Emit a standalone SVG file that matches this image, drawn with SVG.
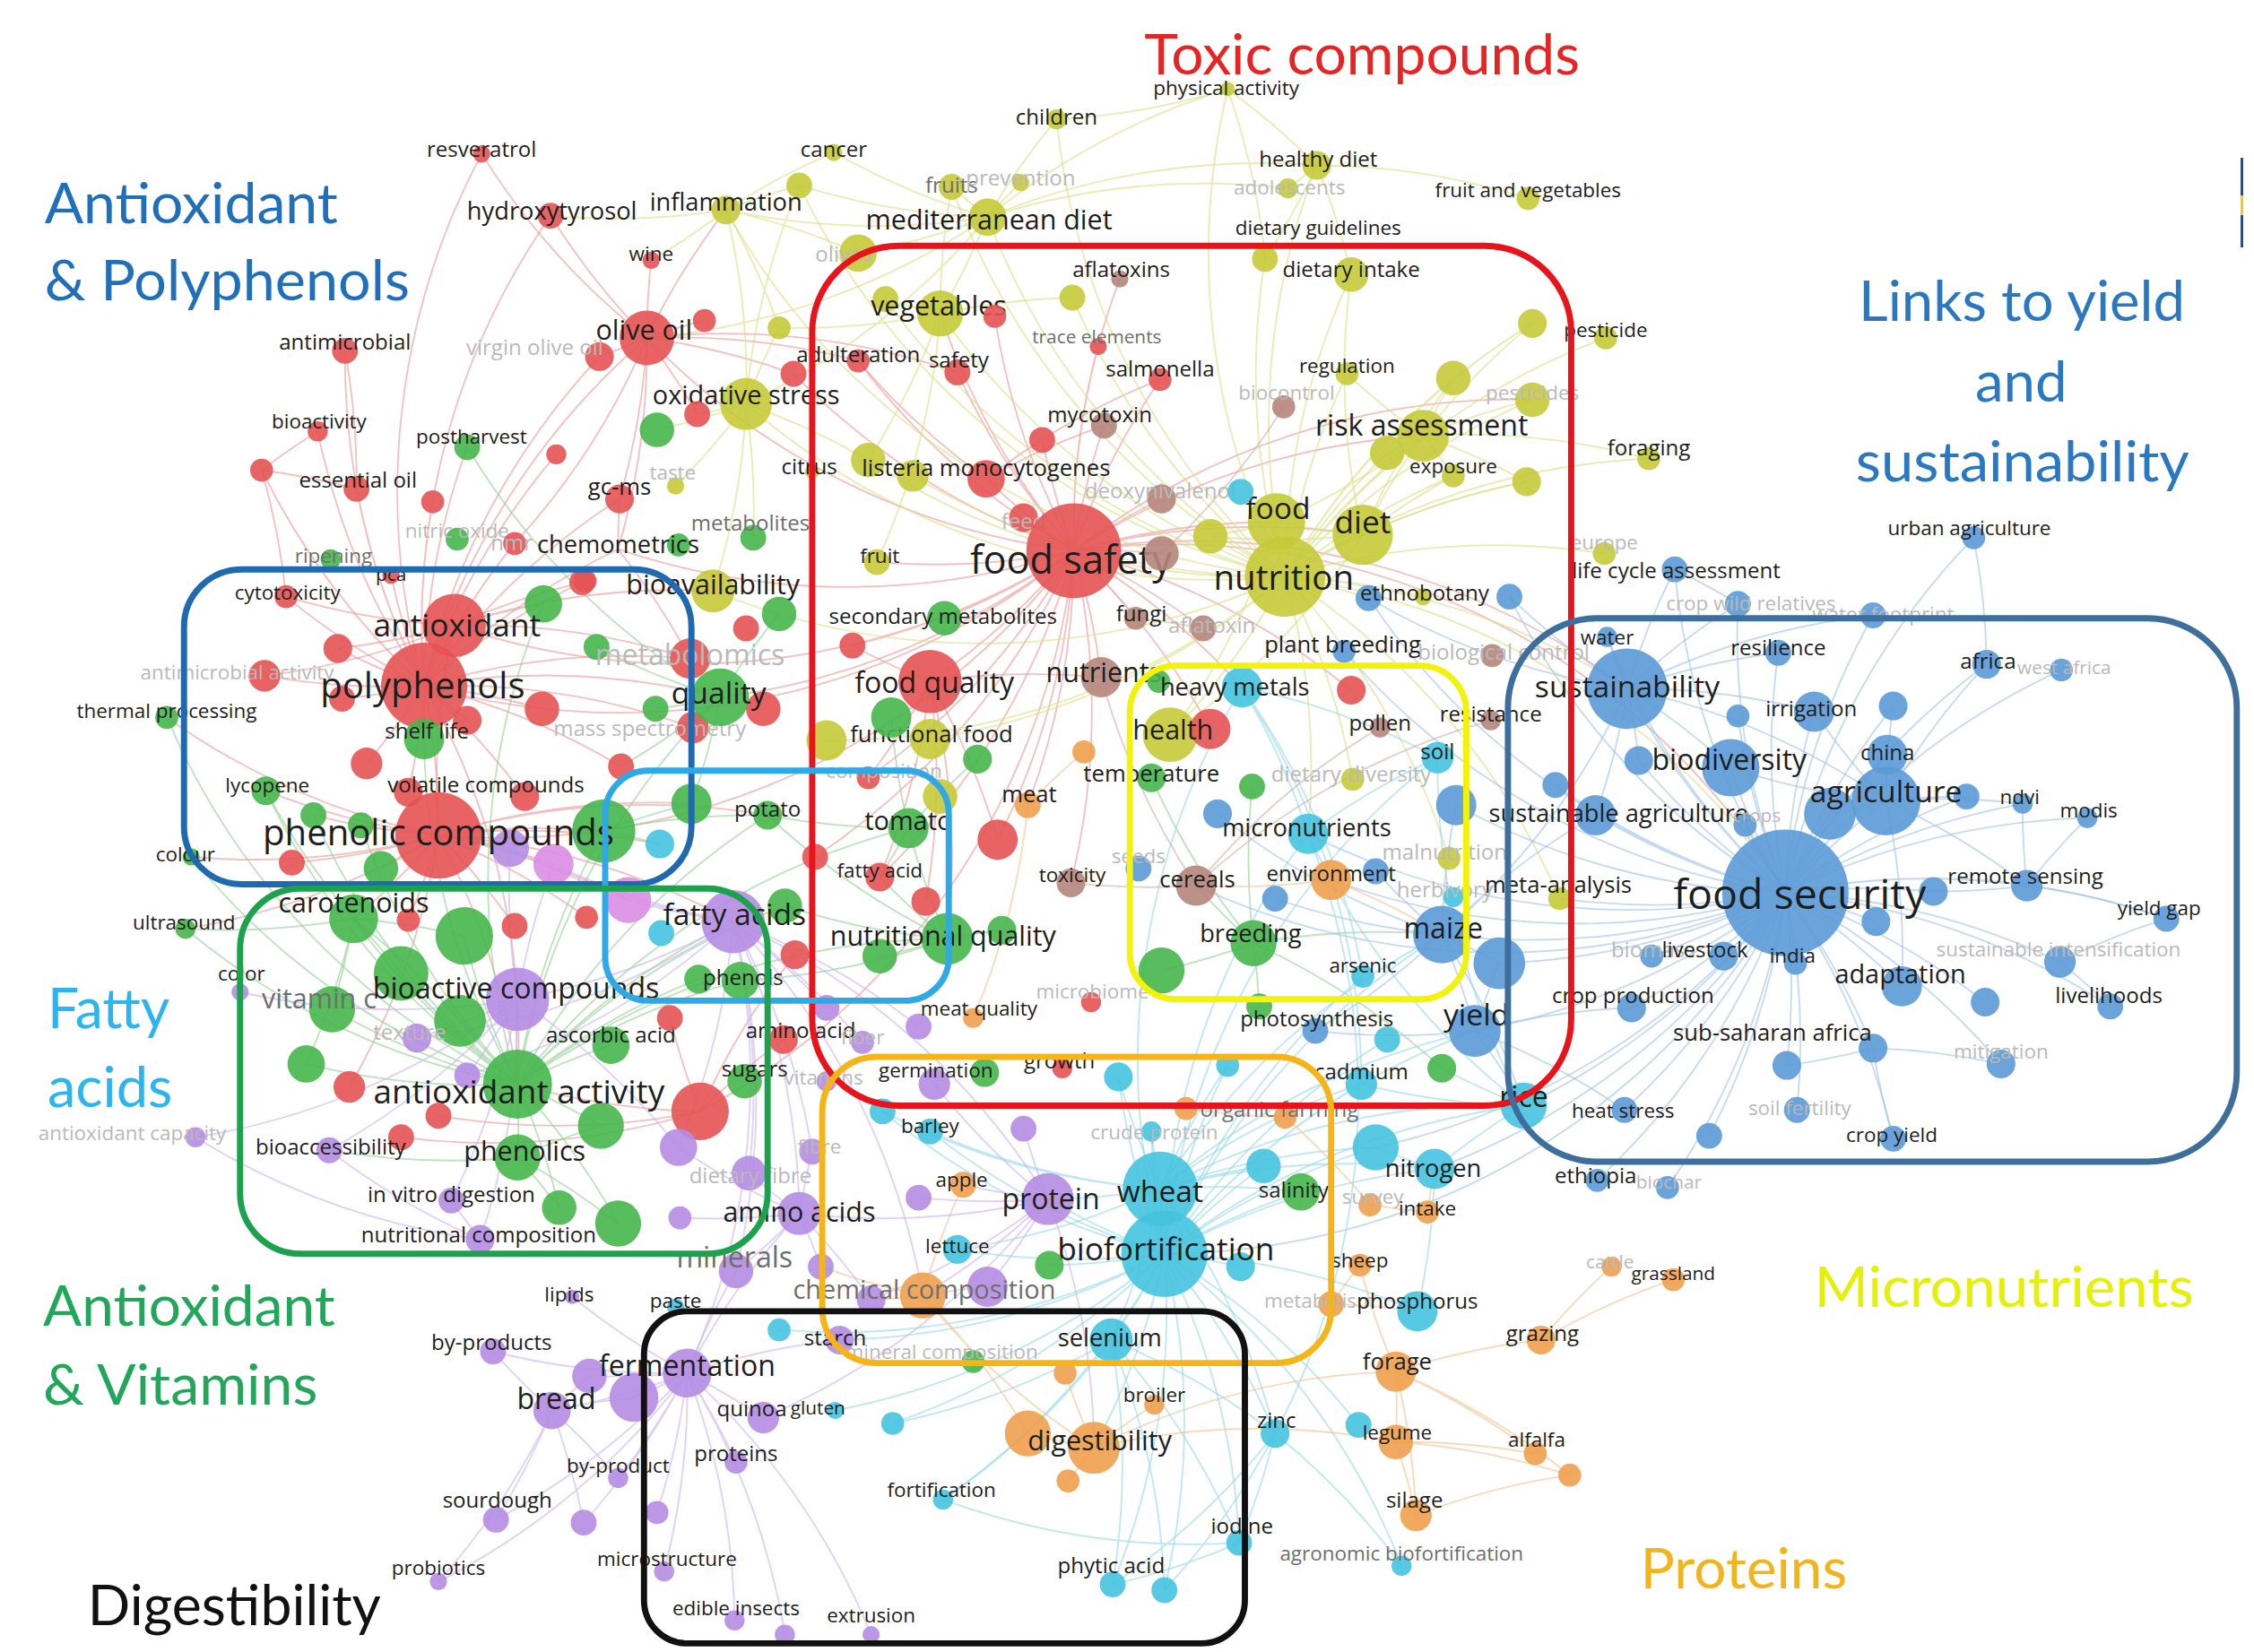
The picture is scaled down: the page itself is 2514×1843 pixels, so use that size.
<svg xmlns="http://www.w3.org/2000/svg" width="2514" height="1843" viewBox="0 0 2514 1843">
<style>
text{font-family:"Open Sans","Noto Sans","Liberation Sans",sans-serif;text-anchor:middle;dominant-baseline:central;fill:#1e1e1e}
.f{fill:#b9b9b9}.gr{fill:#6e6e6e}
.z13{font-size:13px}.z14{font-size:14px}.z15{font-size:15px}.z16{font-size:16px}.z17{font-size:17px}.z18{font-size:18px}.z19{font-size:19px}.z20{font-size:20px}.z21{font-size:21px}.z22{font-size:22px}.z23{font-size:23px}.z24{font-size:24px}.z25{font-size:25px}.z27{font-size:27px}.z29{font-size:29px}
circle{fill-opacity:.9}
.r{fill:#e65353}.g{fill:#46b64b}.y{fill:#c5ca38}.b{fill:#5b9ad6}.p{fill:#b58ce3}.c{fill:#45c3df}.o{fill:#eea04c}.n{fill:#b5857a}.k{fill:#dc8ce6}
#edges path{fill:none;stroke-width:1.15;stroke-opacity:.62}
.er{stroke:#ea9a9a}.eg{stroke:#94d096}.ey{stroke:#dadf86}.eb{stroke:#a2c3e6}.ec{stroke:#96d8e8}.eo{stroke:#f0c48e}.ep{stroke:#ccb5ef}.en{stroke:#d3b0a8}
.box{fill:none;stroke-width:4.3}
.ttl{font-family:Lato,"Open Sans",sans-serif;text-anchor:start;dominant-baseline:alphabetic;font-size:39px}
.t-red{fill:#e52424}.t-blue{fill:#1f6fba}.t-links{fill:#2a78c2}.t-fatty{fill:#2cb4ef}.t-green{fill:#21a65a}.t-black{fill:#111111}.t-yellow{fill:#e4f00a}.t-orange{fill:#f2b41c}
</style>
<rect width="2514" height="1843" fill="#ffffff"/>
<g transform="scale(1.60332 1.604)">
<g id="edges">
<path class="er" d="M747 383A500 500 0 0 1 686 333M747 383A500 500 0 0 1 768 296M747 383A500 500 0 0 1 807 264M747 383A500 500 0 0 1 666 259M747 383A500 500 0 0 1 647 474M747 383A500 500 0 0 1 657 430M747 383A500 500 0 0 1 766 471M747 383A500 500 0 0 1 779 194M747 383A500 500 0 0 1 764 241M747 383A500 500 0 0 1 597 251M747 383A500 500 0 0 1 712 360M747 383A500 500 0 0 1 745 614M747 383A500 500 0 0 1 715 560M747 383A500 500 0 0 1 694 584M747 383A500 500 0 0 1 610 391M747 383A500 500 0 0 1 888 363M747 383A500 500 0 0 1 948 372M747 383A500 500 0 0 1 842 507M747 383A500 500 0 0 1 990 303M747 383A500 500 0 0 1 654 218M747 383A500 500 0 0 1 450 235M747 383A500 500 0 0 1 1066 278M747 383A500 500 0 0 1 864 478M747 383A500 500 0 0 1 295 477M747 383A500 500 0 0 1 305 581M747 383A500 500 0 0 1 316 435M747 383A500 500 0 0 1 612 610M747 383A500 500 0 0 1 1242 621M747 383A500 500 0 0 1 430 382M747 383A500 500 0 0 1 725 306M747 383A500 500 0 0 1 593 449M747 383A500 500 0 0 1 692 220M747 383A500 500 0 0 1 552 260M747 383A500 500 0 0 1 1132 479M747 383A500 500 0 0 1 604 541M747 383A500 500 0 0 1 567 596M747 383A500 500 0 0 1 940 480M747 383A500 500 0 0 1 501 485M747 383A500 500 0 0 1 487 773"/>
<path class="er" d="M295 477A500 500 0 0 1 316 435M295 477A500 500 0 0 1 305 581M295 477A500 500 0 0 1 199 415M295 477A500 500 0 0 1 240 244M295 477A500 500 0 0 1 221 300M295 477A500 500 0 0 1 248 340M295 477A500 500 0 0 1 182 327M295 477A500 500 0 0 1 325 311M295 477A500 500 0 0 1 284 551M295 477A500 500 0 0 1 272 400M295 477A500 500 0 0 1 235 451M295 477A500 500 0 0 1 184 470M295 477A500 500 0 0 1 238 486M295 477A500 500 0 0 1 255 531M295 477A500 500 0 0 1 377 493M295 477A500 500 0 0 1 325 501M295 477A500 500 0 0 1 335 107M295 477A500 500 0 0 1 383 150M295 477A500 500 0 0 1 295 514M295 477A500 500 0 0 1 430 382M295 477A500 500 0 0 1 358 378M295 477A500 500 0 0 1 407 404M295 477A500 500 0 0 1 431 347M295 477A500 500 0 0 1 480 458M295 477A500 500 0 0 1 501 485M295 477A500 500 0 0 1 450 235M295 477A500 500 0 0 1 417 248M295 477A500 500 0 0 1 365 554M295 477A500 500 0 0 1 482 506M295 477A500 500 0 0 1 360 754M295 477A500 500 0 0 1 432 533M295 477A500 500 0 0 1 387 316M295 477A500 500 0 0 1 301 349"/>
<path class="er" d="M305 581A500 500 0 0 1 360 754M305 581A500 500 0 0 1 246 639M305 581A500 500 0 0 1 185 550M305 581A500 500 0 0 1 218 567M305 581A500 500 0 0 1 251 574M305 581A500 500 0 0 1 203 600M305 581A500 500 0 0 1 133 596M305 581A500 500 0 0 1 116 499M305 581A500 500 0 0 1 355 590M305 581A500 500 0 0 1 385 601M305 581A500 500 0 0 1 420 578M305 581A500 500 0 0 1 534 567M305 581A500 500 0 0 1 129 646M305 581A500 500 0 0 1 510 641M305 581A500 500 0 0 1 284 640M305 581A500 500 0 0 1 358 644M305 581A500 500 0 0 1 265 604M305 581A500 500 0 0 1 316 435M305 581A500 500 0 0 1 481 559M305 581A500 500 0 0 1 459 587M305 581A500 500 0 0 1 437 626M305 581A500 500 0 0 1 408 638M305 581A500 500 0 0 1 243 756"/>
<path class="er" d="M450 235A500 500 0 0 1 417 248M450 235A500 500 0 0 1 383 150M450 235A500 500 0 0 1 453 181M450 235A500 500 0 0 1 335 107M450 235A500 500 0 0 1 431 347M450 235A500 500 0 0 1 430 382M450 235A500 500 0 0 1 597 251M450 235A500 500 0 0 1 490 223M450 235A500 500 0 0 1 485 288M450 235A500 500 0 0 1 552 260M450 235A500 500 0 0 1 358 378M450 235A500 500 0 0 1 666 259M450 235A500 500 0 0 1 505 146M316 435A500 500 0 0 1 199 415M316 435A500 500 0 0 1 378 420M316 435A500 500 0 0 1 235 451M316 435A500 500 0 0 1 184 470M316 435A500 500 0 0 1 405 405M316 435A500 500 0 0 1 496 411M316 435A500 500 0 0 1 480 458M487 773A500 500 0 0 1 360 754M487 773A500 500 0 0 1 305 776M487 773A500 500 0 0 1 279 791M487 773A500 500 0 0 1 466 708M487 773A500 500 0 0 1 545 723M487 773A500 500 0 0 1 553 664M647 474A500 500 0 0 1 593 449M647 474A500 500 0 0 1 612 610M647 474A500 500 0 0 1 694 584M647 474A500 500 0 0 1 644 627M647 474A500 500 0 0 1 604 541M647 474A500 500 0 0 1 659 653M647 474A500 500 0 0 1 766 471M182 327A500 500 0 0 1 248 340M182 327A500 500 0 0 1 199 415M182 327A500 500 0 0 1 221 300M240 244A500 500 0 0 1 248 340M430 382A500 500 0 0 1 431 347M430 382A500 500 0 0 1 480 458M686 333A500 500 0 0 1 725 306M686 333A500 500 0 0 1 768 296M686 333A500 500 0 0 1 807 264M686 333A500 500 0 0 1 597 251"/>
<path class="eg" d="M360 754A500 500 0 0 1 360 805M360 754A500 500 0 0 1 246 639M360 754A500 500 0 0 1 231 702M360 754A500 500 0 0 1 360 695M360 754A500 500 0 0 1 279 677M360 754A500 500 0 0 1 320 710M360 754A500 500 0 0 1 213 740M360 754A500 500 0 0 1 323 651M360 754A500 500 0 0 1 425 727M360 754A500 500 0 0 1 418 783M360 754A500 500 0 0 1 430 851M360 754A500 500 0 0 1 185 550M360 754A500 500 0 0 1 510 641M360 754A500 500 0 0 1 659 653M360 754A500 500 0 0 1 632 576M360 754A500 500 0 0 1 534 567M360 754A500 500 0 0 1 295 514M360 754A500 500 0 0 1 501 485M360 754A500 500 0 0 1 389 840M360 754A500 500 0 0 1 515 682M360 754A500 500 0 0 1 486 681M360 754A500 500 0 0 1 546 630M360 754A500 500 0 0 1 378 420M360 754A500 500 0 0 1 420 578M360 754A500 500 0 0 1 129 646M360 754A500 500 0 0 1 133 596M360 754A500 500 0 0 1 116 499M360 754A500 500 0 0 1 251 574M360 754A500 500 0 0 1 218 567"/>
<path class="eg" d="M246 639A500 500 0 0 1 279 677M246 639A500 500 0 0 1 323 651M246 639A500 500 0 0 1 231 702M246 639A500 500 0 0 1 185 550M246 639A500 500 0 0 1 320 710M246 639A500 500 0 0 1 213 740M246 639A500 500 0 0 1 129 646M360 805A500 500 0 0 1 418 783M360 805A500 500 0 0 1 430 851M360 805A500 500 0 0 1 389 840M360 805A500 500 0 0 1 229 800M659 653A500 500 0 0 1 612 665M659 653A500 500 0 0 1 697 647M659 653A500 500 0 0 1 632 576M659 653A500 500 0 0 1 534 567M659 653A500 500 0 0 1 612 610M659 653A500 500 0 0 1 546 630M659 653A500 500 0 0 1 515 682M501 485A500 500 0 0 1 456 493M501 485A500 500 0 0 1 415 450M501 485A500 500 0 0 1 542 427M501 485A500 500 0 0 1 531 493M501 485A500 500 0 0 1 481 559M501 485A500 500 0 0 1 432 533M501 485A500 500 0 0 1 325 311M420 578A500 500 0 0 1 481 559M420 578A500 500 0 0 1 459 587M420 578A500 500 0 0 1 534 567M632 576A500 500 0 0 1 534 567M632 576A500 500 0 0 1 680 528M632 576A500 500 0 0 1 620 499M632 576A500 500 0 0 1 612 610M872 656A500 500 0 0 1 808 675M872 656A500 500 0 0 1 801 541M872 656A500 500 0 0 1 871 547M872 656A500 500 0 0 1 1003 650M872 656A500 500 0 0 1 832 616M872 656A500 500 0 0 1 876 700M872 656A500 500 0 0 1 1003 743"/>
<path class="ey" d="M894 401A500 500 0 0 1 888 363M894 401A500 500 0 0 1 948 372M894 401A500 500 0 0 1 814 511M894 401A500 500 0 0 1 990 303M894 401A500 500 0 0 1 687 151M894 401A500 500 0 0 1 654 218M894 401A500 500 0 0 1 940 191M894 401A500 500 0 0 1 880 180M894 401A500 500 0 0 1 916 115M894 401A500 500 0 0 1 735 83M894 401A500 500 0 0 1 854 62M894 401A500 500 0 0 1 662 130M894 401A500 500 0 0 1 1011 331M894 401A500 500 0 0 1 1117 235M894 401A500 500 0 0 1 1147 319M894 401A500 500 0 0 1 1116 385M894 401A500 500 0 0 1 952 416M894 401A500 500 0 0 1 1008 597M894 401A500 500 0 0 1 941 542M894 401A500 500 0 0 1 647 514M894 401A500 500 0 0 1 496 411M894 401A500 500 0 0 1 519 281M894 401A500 500 0 0 1 505 146M894 401A500 500 0 0 1 556 129M894 401A500 500 0 0 1 604 320M894 401A500 500 0 0 1 635 331M894 401A500 500 0 0 1 616 208M894 401A500 500 0 0 1 746 207M894 401A500 500 0 0 1 937 260M894 401A500 500 0 0 1 1011 263M894 401A500 500 0 0 1 965 315M894 401A500 500 0 0 1 1062 335M894 401A500 500 0 0 1 1066 278M894 401A500 500 0 0 1 1066 225M894 401A500 500 0 0 1 842 373M894 401A500 500 0 0 1 910 580M894 401A500 500 0 0 1 1242 621M894 401A500 500 0 0 1 1132 479M894 401A500 500 0 0 1 575 515M894 401A500 500 0 0 1 1085 625M894 401A500 500 0 0 1 990 415"/>
<path class="ey" d="M687 151A500 500 0 0 1 450 235M687 151A500 500 0 0 1 597 176M687 151A500 500 0 0 1 505 146M687 151A500 500 0 0 1 580 106M687 151A500 500 0 0 1 662 130M687 151A500 500 0 0 1 710 127M687 151A500 500 0 0 1 654 218M687 151A500 500 0 0 1 519 281M687 151A500 500 0 0 1 916 115M687 151A500 500 0 0 1 735 83M687 151A500 500 0 0 1 556 129M687 151A500 500 0 0 1 854 62M687 151A500 500 0 0 1 896 131M505 146A500 500 0 0 1 519 281M505 146A500 500 0 0 1 580 106M505 146A500 500 0 0 1 556 129M505 146A500 500 0 0 1 383 150M505 146A500 500 0 0 1 542 228M505 146A500 500 0 0 1 597 176M505 146A500 500 0 0 1 453 181M519 281A500 500 0 0 1 485 288M519 281A500 500 0 0 1 457 299M519 281A500 500 0 0 1 542 228M519 281A500 500 0 0 1 556 129M519 281A500 500 0 0 1 496 411M519 281A500 500 0 0 1 604 320M519 281A500 500 0 0 1 524 374M519 281A500 500 0 0 1 470 338M948 372A500 500 0 0 1 888 363M948 372A500 500 0 0 1 990 303M948 372A500 500 0 0 1 1011 331M948 372A500 500 0 0 1 1062 335M948 372A500 500 0 0 1 814 511M948 372A500 500 0 0 1 842 373M948 372A500 500 0 0 1 940 191M948 372A500 500 0 0 1 1011 263M990 303A500 500 0 0 1 965 315M990 303A500 500 0 0 1 1011 263M990 303A500 500 0 0 1 1066 278M990 303A500 500 0 0 1 1066 225M990 303A500 500 0 0 1 1011 331M990 303A500 500 0 0 1 937 260M990 303A500 500 0 0 1 888 363M990 303A500 500 0 0 1 1147 319M990 303A500 500 0 0 1 1062 335M854 62A500 500 0 0 1 880 180M854 62A500 500 0 0 1 916 115M854 62A500 500 0 0 1 735 83M916 115A500 500 0 0 1 940 191M916 115A500 500 0 0 1 880 180M916 115A500 500 0 0 1 896 131M916 115A500 500 0 0 1 1063 138M888 363A500 500 0 0 1 814 511M888 363A500 500 0 0 1 842 373M654 218A500 500 0 0 1 616 208M654 218A500 500 0 0 1 604 320M654 218A500 500 0 0 1 746 207M654 218A500 500 0 0 1 542 228M654 218A500 500 0 0 1 662 130M654 218A500 500 0 0 1 610 391"/>
<path class="eb" d="M1242 621A500 500 0 0 1 1132 479M1242 621A500 500 0 0 1 1204 534M1242 621A500 500 0 0 1 1312 557M1242 621A500 500 0 0 1 1273 566M1242 621A500 500 0 0 1 1313 525M1242 621A500 500 0 0 1 1262 495M1242 621A500 500 0 0 1 1237 454M1242 621A500 500 0 0 1 1118 443M1242 621A500 500 0 0 1 1382 462M1242 621A500 500 0 0 1 1110 567M1242 621A500 500 0 0 1 1214 574M1242 621A500 500 0 0 1 1199 665M1242 621A500 500 0 0 1 1249 670M1242 621A500 500 0 0 1 1149 665M1242 621A500 500 0 0 1 1323 686M1242 621A500 500 0 0 1 1303 729M1242 621A500 500 0 0 1 1243 741M1242 621A500 500 0 0 1 1135 701M1242 621A500 500 0 0 1 1026 717M1242 621A500 500 0 0 1 1003 650M1242 621A500 500 0 0 1 1060 769M1242 621A500 500 0 0 1 1410 616M1242 621A500 500 0 0 1 1507 639M1242 621A500 500 0 0 1 1433 669M1242 621A500 500 0 0 1 1468 700M1242 621A500 500 0 0 1 1392 740M1242 621A500 500 0 0 1 1345 620M1242 621A500 500 0 0 1 1305 641M1242 621A500 500 0 0 1 1317 792M1242 621A500 500 0 0 1 1130 772M1242 621A500 500 0 0 1 1250 772M1242 621A500 500 0 0 1 1111 821M1242 621A500 500 0 0 1 1373 374M1242 621A500 500 0 0 1 1165 396M1242 621A500 500 0 0 1 1209 420M1242 621A500 500 0 0 1 1303 428M1242 621A500 500 0 0 1 1085 625M1242 621A500 500 0 0 1 1407 559M1242 621A500 500 0 0 1 1452 569M1242 621A500 500 0 0 1 1434 466M1242 621A500 500 0 0 1 1381 697M1242 621A500 500 0 0 1 1209 498M1242 621A500 500 0 0 1 1317 491M1242 621A500 500 0 0 1 1140 529M1242 621A500 500 0 0 1 1368 554M1242 621A500 500 0 0 1 1043 670M1242 621A500 500 0 0 1 1013 560M1242 621A500 500 0 0 1 1082 546M1242 621A500 500 0 0 1 910 580M1242 621A500 500 0 0 1 926 612M1242 621A500 500 0 0 1 832 616M1242 621A500 500 0 0 1 935 453M1242 621A500 500 0 0 1 998 813M1242 621A500 500 0 0 1 957 798M1242 621A500 500 0 0 1 810 872M1242 621A500 500 0 0 1 1189 790M1242 621A500 500 0 0 1 1160 826M1242 621A500 500 0 0 1 952 416M1242 621A500 500 0 0 1 1050 415"/>
<path class="eb" d="M1132 479A500 500 0 0 1 1204 534M1132 479A500 500 0 0 1 1118 443M1132 479A500 500 0 0 1 1237 454M1132 479A500 500 0 0 1 1262 495M1132 479A500 500 0 0 1 1110 567M1132 479A500 500 0 0 1 1140 529M1132 479A500 500 0 0 1 1165 396M1132 479A500 500 0 0 1 1209 420M1132 479A500 500 0 0 1 1303 428M1132 479A500 500 0 0 1 1312 557M1132 479A500 500 0 0 1 1003 650M1132 479A500 500 0 0 1 1050 415M1132 479A500 500 0 0 1 952 416M1312 557A500 500 0 0 1 1313 525M1312 557A500 500 0 0 1 1317 491M1312 557A500 500 0 0 1 1382 462M1312 557A500 500 0 0 1 1368 554M1312 557A500 500 0 0 1 1407 559M1312 557A500 500 0 0 1 1410 616M1312 557A500 500 0 0 1 1204 534M1312 557A500 500 0 0 1 1273 566M1312 557A500 500 0 0 1 1323 686M1312 557A500 500 0 0 1 1262 495M1003 650A500 500 0 0 1 1043 670M1003 650A500 500 0 0 1 1026 717M1003 650A500 500 0 0 1 1013 560M1003 650A500 500 0 0 1 887 625M1003 650A500 500 0 0 1 957 606M1003 650A500 500 0 0 1 847 566M1003 650A500 500 0 0 1 1060 769M1003 650A500 500 0 0 1 915 717M1003 650A500 500 0 0 1 1110 567M1026 717A500 500 0 0 1 1043 670M1026 717A500 500 0 0 1 1130 772M1026 717A500 500 0 0 1 1135 701M1026 717A500 500 0 0 1 1060 769M1026 717A500 500 0 0 1 915 717M1303 729A500 500 0 0 1 1243 741M1303 729A500 500 0 0 1 1392 740M1410 616A500 500 0 0 1 1452 569M1410 616A500 500 0 0 1 1407 559M1410 616A500 500 0 0 1 1507 639M1410 616A500 500 0 0 1 1345 620M1433 669A500 500 0 0 1 1507 639M1433 669A500 500 0 0 1 1468 700M1373 374A500 500 0 0 1 1382 462M1165 396A500 500 0 0 1 1209 420M1317 792A500 500 0 0 1 1303 729"/>
<path class="ec" d="M810 872A500 500 0 0 1 807 827M810 872A500 500 0 0 1 773 932M810 872A500 500 0 0 1 887 997M810 872A500 500 0 0 1 862 1073M810 872A500 500 0 0 1 774 1102M810 872A500 500 0 0 1 810 1106M810 872A500 500 0 0 1 656 1043M810 872A500 500 0 0 1 975 1089M810 872A500 500 0 0 1 1060 769M810 872A500 500 0 0 1 910 580M810 872A500 500 0 0 1 998 813M810 872A500 500 0 0 1 957 798M810 872A500 500 0 0 1 879 811M810 872A500 500 0 0 1 801 787M810 872A500 500 0 0 1 905 829M810 872A500 500 0 0 1 947 754M810 872A500 500 0 0 1 666 869M810 872A500 500 0 0 1 647 787M810 872A500 500 0 0 1 614 773M810 872A500 500 0 0 1 778 749M810 872A500 500 0 0 1 1000 527M810 872A500 500 0 0 1 864 478M810 872A500 500 0 0 1 948 679M810 872A500 500 0 0 1 729 834M810 872A500 500 0 0 1 584 932M810 872A500 500 0 0 1 581 981M810 872A500 500 0 0 1 621 990M810 872A500 500 0 0 1 863 881M810 872A500 500 0 0 1 986 912M810 872A500 500 0 0 1 854 741M810 872A500 500 0 0 1 965 723M810 872A500 500 0 0 1 1003 650M810 872A500 500 0 0 1 1026 717M810 872A500 500 0 0 1 542 925M810 872A500 500 0 0 1 761 1007M810 872A500 500 0 0 1 945 991M810 872A500 500 0 0 1 730 880"/>
<path class="ec" d="M807 827A500 500 0 0 1 729 834M807 827A500 500 0 0 1 879 811M807 827A500 500 0 0 1 905 829M807 827A500 500 0 0 1 998 813M807 827A500 500 0 0 1 957 798M807 827A500 500 0 0 1 801 787M807 827A500 500 0 0 1 647 787M807 827A500 500 0 0 1 778 749M807 827A500 500 0 0 1 1060 769M807 827A500 500 0 0 1 947 754M807 827A500 500 0 0 1 1003 650M807 827A500 500 0 0 1 666 869M807 827A500 500 0 0 1 773 932M807 827A500 500 0 0 1 887 997M807 827A500 500 0 0 1 1026 717M807 827A500 500 0 0 1 854 741M807 827A500 500 0 0 1 614 773M773 932A500 500 0 0 1 862 1073M773 932A500 500 0 0 1 774 1102M773 932A500 500 0 0 1 810 1106M773 932A500 500 0 0 1 887 997M773 932A500 500 0 0 1 656 1043M773 932A500 500 0 0 1 621 990M887 997A500 500 0 0 1 862 1073M887 997A500 500 0 0 1 810 1106M887 997A500 500 0 0 1 975 1089M887 997A500 500 0 0 1 774 1102M862 1073A500 500 0 0 1 774 1102M862 1073A500 500 0 0 1 656 1043M998 813A500 500 0 0 1 986 912M998 813A500 500 0 0 1 957 798M998 813A500 500 0 0 1 1060 769M1060 769A500 500 0 0 1 947 754M1060 769A500 500 0 0 1 1003 743M1060 769A500 500 0 0 1 910 580M1060 769A500 500 0 0 1 1000 527M864 478A500 500 0 0 1 1000 527M864 478A500 500 0 0 1 948 679M864 478A500 500 0 0 1 947 754M864 478A500 500 0 0 1 910 580M910 580A500 500 0 0 1 1000 527M910 580A500 500 0 0 1 887 997"/>
<path class="eo" d="M761 1007A500 500 0 0 1 715 997M761 1007A500 500 0 0 1 743 1030M761 1007A500 500 0 0 1 741 955M761 1007A500 500 0 0 1 803 977M761 1007A500 500 0 0 1 642 901M761 1007A500 500 0 0 1 971 954M761 1007A500 500 0 0 1 971 1003M971 954A500 500 0 0 1 971 1003M971 954A500 500 0 0 1 1068 1011M971 954A500 500 0 0 1 1092 1026M971 954A500 500 0 0 1 985 1054M971 954A500 500 0 0 1 1072 932M971 954A500 500 0 0 1 946 880M971 1003A500 500 0 0 1 985 1054M971 1003A500 500 0 0 1 1092 1026M971 1003A500 500 0 0 1 1068 1011M985 1054A500 500 0 0 1 1092 1026M1072 932A500 500 0 0 1 1164 890M1072 932A500 500 0 0 1 1121 881M926 907A500 500 0 0 1 986 912M926 907A500 500 0 0 1 946 880M642 901A500 500 0 0 1 687 895M642 901A500 500 0 0 1 606 904M642 901A500 500 0 0 1 715 997M642 901A500 500 0 0 1 670 824M642 901A500 500 0 0 1 571 881M926 612A500 500 0 0 1 832 616M926 612A500 500 0 0 1 1003 650M715 560A500 500 0 0 1 677 708M715 560A500 500 0 0 1 754 523M894 777A500 500 0 0 1 825 771M894 777A500 500 0 0 1 953 838M993 843A500 500 0 0 1 953 838M993 843A500 500 0 0 1 998 813"/>
<path class="ep" d="M510 641A500 500 0 0 1 556 844M510 641A500 500 0 0 1 512 884M510 641A500 500 0 0 1 642 901M510 641A500 500 0 0 1 478 955M510 641A500 500 0 0 1 360 695M510 641A500 500 0 0 1 521 816M510 641A500 500 0 0 1 472 798M510 641A500 500 0 0 1 437 626M510 641A500 500 0 0 1 639 714M510 641A500 500 0 0 1 575 701M510 641A500 500 0 0 1 565 801M510 641A500 500 0 0 1 600 725M510 641A500 500 0 0 1 385 601M510 641A500 500 0 0 1 355 590M510 641A500 500 0 0 1 729 834M510 641A500 500 0 0 1 290 722M510 641A500 500 0 0 1 325 748M360 695A500 500 0 0 1 290 722M360 695A500 500 0 0 1 325 748M360 695A500 500 0 0 1 229 800M360 695A500 500 0 0 1 314 835M360 695A500 500 0 0 1 334 862M360 695A500 500 0 0 1 472 798M360 695A500 500 0 0 1 385 601M360 695A500 500 0 0 1 355 590M360 695A500 500 0 0 1 167 690M360 695A500 500 0 0 1 136 791"/>
<path class="ep" d="M478 955A500 500 0 0 1 384 981M478 955A500 500 0 0 1 441 972M478 955A500 500 0 0 1 410 957M478 955A500 500 0 0 1 531 986M478 955A500 500 0 0 1 512 1017M478 955A500 500 0 0 1 345 1057M478 955A500 500 0 0 1 430 1028M478 955A500 500 0 0 1 462 1093M478 955A500 500 0 0 1 511 1127M478 955A500 500 0 0 1 546 1137M478 955A500 500 0 0 1 606 1137M478 955A500 500 0 0 1 584 932M478 955A500 500 0 0 1 305 1100M478 955A500 500 0 0 1 406 1059M478 955A500 500 0 0 1 457 1052M478 955A500 500 0 0 1 343 940M478 955A500 500 0 0 1 398 902M478 955A500 500 0 0 1 556 844M478 955A500 500 0 0 1 512 884M384 981A500 500 0 0 1 345 1057M384 981A500 500 0 0 1 343 940M384 981A500 500 0 0 1 406 1059M384 981A500 500 0 0 1 441 972M384 981A500 500 0 0 1 410 957M384 981A500 500 0 0 1 430 1028M384 981A500 500 0 0 1 305 1100M729 834A500 500 0 0 1 556 844M729 834A500 500 0 0 1 642 901M729 834A500 500 0 0 1 687 895M729 834A500 500 0 0 1 670 824M729 834A500 500 0 0 1 639 833M729 834A500 500 0 0 1 712 785M729 834A500 500 0 0 1 761 1007M729 834A500 500 0 0 1 650 754M729 834A500 500 0 0 1 606 904M729 834A500 500 0 0 1 531 986M556 844A500 500 0 0 1 521 816M556 844A500 500 0 0 1 473 847M556 844A500 500 0 0 1 512 884M556 844A500 500 0 0 1 571 881M556 844A500 500 0 0 1 606 904M556 844A500 500 0 0 1 565 801M556 844A500 500 0 0 1 472 798M334 862A500 500 0 0 1 314 835M334 862A500 500 0 0 1 229 800M334 862A500 500 0 0 1 136 791"/>
<path class="en" d="M747 383A500 500 0 0 1 808 385M747 383A500 500 0 0 1 790 430M747 383A500 500 0 0 1 837 437M747 383A500 500 0 0 1 808 347M832 616A500 500 0 0 1 766 471M832 616A500 500 0 0 1 745 614M832 616A500 500 0 0 1 960 506M832 616A500 500 0 0 1 1037 501M790 430A500 500 0 0 1 837 437M893 283A500 500 0 0 1 808 385"/>
</g>
<g id="nodes">
<g id="n-physical-activity"><circle class="y" cx="854" cy="62" r="5"/><text class="z14" x="853" y="61">physical activity</text></g>
<g id="n-children"><circle class="y" cx="735" cy="83" r="7"/><text class="z15" x="735" y="81">children</text></g>
<g id="n-cancer"><circle class="y" cx="580" cy="106" r="6"/><text class="z15" x="580" y="103">cancer</text></g>
<g id="n-y1"><circle class="y" cx="556" cy="129" r="9"/></g>
<g id="n-inflammation"><circle class="y" cx="505" cy="146" r="10"/><text class="z17" x="505" y="140">inflammation</text></g>
<g id="n-fruits"><circle class="y" cx="662" cy="130" r="9"/><text class="z15 gr" x="662" y="128">fruits</text></g>
<g id="n-prevention"><circle class="y" cx="710" cy="127" r="6"/><text class="z15 f" x="710" y="123">prevention</text></g>
<g id="n-mediterranean-diet"><circle class="y" cx="687" cy="151" r="13"/><text class="z19" x="688" y="152">mediterranean diet</text></g>
<g id="n-olives"><circle class="y" cx="597" cy="176" r="13"/><text class="z15 f" x="587" y="176">olives</text></g>
<g id="n-y2"><circle class="y" cx="616" cy="208" r="9"/></g>
<g id="n-vegetables"><circle class="y" cx="654" cy="218" r="16"/><text class="z19" x="653" y="212">vegetables</text></g>
<g id="n-y3"><circle class="y" cx="542" cy="228" r="8"/></g>
<g id="n-y4"><circle class="y" cx="746" cy="207" r="9"/></g>
<g id="n-oxidative-stress"><circle class="y" cx="519" cy="281" r="18"/><text class="z18" x="519" y="274">oxidative stress</text></g>
<g id="n-taste"><circle class="y" cx="470" cy="338" r="6"/><text class="z14 f" x="468" y="328">taste</text></g>
<g id="n-y5"><circle class="y" cx="604" cy="320" r="12"/></g>
<g id="n-y6"><circle class="y" cx="635" cy="331" r="11"/></g>
<g id="n-fruit"><circle class="y" cx="610" cy="391" r="9"/><text class="z14" x="612" y="386">fruit</text></g>
<g id="n-bioavailability"><circle class="y" cx="496" cy="411" r="15"/><text class="z19" x="496" y="406">bioavailability</text></g>
<g id="n-y7"><circle class="y" cx="575" cy="515" r="14"/></g>
<g id="n-functional-food"><circle class="y" cx="647" cy="514" r="14"/><text class="z16" x="648" y="510">functional food</text></g>
<g id="n-y8"><circle class="y" cx="654" cy="554" r="12"/></g>
<g id="n-y9"><circle class="y" cx="842" cy="373" r="12"/></g>
<g id="n-food"><circle class="y" cx="888" cy="363" r="20"/><text class="z21" x="889" y="353">food</text></g>
<g id="n-diet"><circle class="y" cx="948" cy="372" r="21"/><text class="z22" x="948" y="362">diet</text></g>
<g id="n-nutrition"><circle class="y" cx="894" cy="401" r="28"/><text class="z24" x="893" y="401">nutrition</text></g>
<g id="n-healthy-diet"><circle class="y" cx="916" cy="115" r="10"/><text class="z15" x="917" y="110">healthy diet</text></g>
<g id="n-adolescents"><circle class="y" cx="896" cy="131" r="7"/><text class="z14 f" x="897" y="130">adolescents</text></g>
<g id="n-dietary-guidelines"><circle class="y" cx="880" cy="180" r="9"/><text class="z14" x="917" y="158">dietary guidelines</text></g>
<g id="n-dietary-intake"><circle class="y" cx="940" cy="191" r="12"/><text class="z15" x="940" y="187">dietary intake</text></g>
<g id="n-fruit-and-vegetables"><circle class="y" cx="1063" cy="138" r="8"/><text class="z14" x="1063" y="132">fruit and vegetables</text></g>
<g id="n-regulation"><circle class="y" cx="937" cy="260" r="8"/><text class="z14" x="937" y="254">regulation</text></g>
<g id="n-y10"><circle class="y" cx="1011" cy="263" r="12"/></g>
<g id="n-y11"><circle class="y" cx="1066" cy="225" r="10"/></g>
<g id="n-pesticides"><circle class="y" cx="1066" cy="278" r="12"/><text class="z14 f" x="1066" y="273">pesticides</text></g>
<g id="n-y12"><circle class="y" cx="965" cy="315" r="12"/></g>
<g id="n-risk-assessment"><circle class="y" cx="990" cy="303" r="18"/><text class="z20" x="989" y="295">risk assessment</text></g>
<g id="n-exposure"><circle class="y" cx="1011" cy="331" r="8"/><text class="z14" x="1011" y="324">exposure</text></g>
<g id="n-y13"><circle class="y" cx="1062" cy="335" r="10"/></g>
<g id="n-pesticide"><circle class="y" cx="1117" cy="235" r="8"/><text class="z14" x="1117" y="229">pesticide</text></g>
<g id="n-foraging"><circle class="y" cx="1147" cy="319" r="8"/><text class="z15" x="1147" y="311">foraging</text></g>
<g id="n-europe"><circle class="y" cx="1116" cy="385" r="8"/><text class="z14 f" x="1116" y="377">europe</text></g>
<g id="n-y14"><circle class="y" cx="990" cy="415" r="6"/></g>
<g id="n-dietary-diversity"><circle class="y" cx="941" cy="542" r="8"/><text class="z15 f" x="940" y="538">dietary diversity</text></g>
<g id="n-malnutrition"><circle class="y" cx="1008" cy="597" r="8"/><text class="z15 f" x="1005" y="592">malnutrition</text></g>
<g id="n-meta-analysis"><circle class="y" cx="1085" cy="625" r="8"/><text class="z16" x="1084" y="615">meta-analysis</text></g>
<g id="n-health"><circle class="y" cx="814" cy="511" r="19"/><circle class="r" cx="842" cy="507" r="14"/><text class="z19" x="816" y="507">health</text></g>
<g id="n-citrus"><circle class="y" cx="565" cy="328" r="5"/><text class="z15" x="563" y="324">citrus</text></g>

<g id="n-resveratrol"><circle class="r" cx="335" cy="107" r="6"/><text class="z15" x="335" y="103">resveratrol</text></g>
<g id="n-hydroxytyrosol"><circle class="r" cx="383" cy="150" r="9"/><text class="z17" x="384" y="146">hydroxytyrosol</text></g>
<g id="n-wine"><circle class="r" cx="453" cy="181" r="6"/><text class="z14" x="453" y="176">wine</text></g>
<g id="n-r1"><circle class="r" cx="490" cy="223" r="8"/></g>
<g id="n-olive-oil"><circle class="r" cx="450" cy="235" r="19"/><text class="z19" x="448" y="229">olive oil</text></g>
<g id="n-virgin-olive-oil"><circle class="r" cx="417" cy="248" r="10"/><text class="z15 f" x="372" y="241">virgin olive oil</text></g>
<g id="n-antimicrobial"><circle class="r" cx="240" cy="244" r="9"/><text class="z15" x="240" y="237">antimicrobial</text></g>
<g id="n-r2"><circle class="r" cx="552" cy="260" r="9"/></g>
<g id="n-adulteration"><circle class="r" cx="597" cy="251" r="8"/><text class="z15" x="597" y="246">adulteration</text></g>
<g id="n-safety"><circle class="r" cx="666" cy="259" r="9"/><text class="z15" x="667" y="250">safety</text></g>
<g id="n-r3"><circle class="r" cx="692" cy="220" r="8"/></g>
<g id="n-aflatoxins"><circle class="n" cx="779" cy="194" r="6"/><text class="z15" x="780" y="187">aflatoxins</text></g>
<g id="n-trace-elements"><circle class="r" cx="764" cy="241" r="6"/><text class="z13 gr" x="763" y="234">trace elements</text></g>
<g id="n-salmonella"><circle class="r" cx="807" cy="264" r="8"/><text class="z15" x="807" y="256">salmonella</text></g>
<g id="n-r4"><circle class="r" cx="725" cy="306" r="9"/></g>
<g id="n-mycotoxin"><circle class="n" cx="768" cy="296" r="9"/><text class="z15" x="765" y="288">mycotoxin</text></g>
<g id="n-bioactivity"><circle class="r" cx="221" cy="300" r="7"/><text class="z14" x="222" y="293">bioactivity</text></g>
<g id="n-postharvest"><circle class="g" cx="325" cy="311" r="9"/><text class="z14" x="328" y="303">postharvest</text></g>
<g id="n-r5"><circle class="r" cx="387" cy="316" r="7"/></g>
<g id="n-r6"><circle class="r" cx="182" cy="327" r="8"/></g>
<g id="n-essential-oil"><circle class="r" cx="248" cy="340" r="9"/><text class="z15" x="249" y="333">essential oil</text></g>
<g id="n-r7"><circle class="r" cx="301" cy="349" r="8"/></g>
<g id="n-r8"><circle class="r" cx="485" cy="288" r="9"/></g>
<g id="n-g1"><circle class="g" cx="457" cy="299" r="12"/></g>
<g id="n-gc-ms"><circle class="r" cx="431" cy="347" r="10"/><text class="z16" x="431" y="338">gc-ms</text></g>
<g id="n-listeria-monocytogenes"><circle class="r" cx="686" cy="333" r="13"/><text class="z16" x="686" y="325">listeria monocytogenes</text></g>
<g id="n-g2"><circle class="g" cx="472" cy="379" r="8"/></g>
<g id="n-metabolites"><circle class="g" cx="524" cy="374" r="9"/><text class="z15 gr" x="522" y="363">metabolites</text></g>
<g id="n-nitric-oxide"><circle class="g" cx="318" cy="375" r="8"/><text class="z14 f" x="318" y="369">nitric oxide</text></g>
<g id="n-chemometrics"><circle class="r" cx="358" cy="378" r="8"/><text class="z15 f" x="356" y="377">nmr</text><text class="z17" x="430" y="378">chemometrics</text></g>
<g id="n-r9"><circle class="r" cx="407" cy="404" r="8"/></g>
<g id="n-ripening"><circle class="g" cx="230" cy="389" r="7"/><text class="z14 gr" x="232" y="386">ripening</text></g>
<g id="n-pca"><circle class="r" cx="272" cy="400" r="6"/><text class="z13" x="272" y="399">pca</text></g>
<g id="n-cytotoxicity"><circle class="r" cx="199" cy="415" r="8"/><text class="z14" x="200" y="412">cytotoxicity</text></g>
<g id="n-g3"><circle class="g" cx="378" cy="420" r="13"/></g>
<g id="n-antioxidant"><circle class="r" cx="316" cy="435" r="22"/><text class="z22" x="318" y="434">antioxidant</text></g>
<g id="n-r10"><circle class="r" cx="235" cy="451" r="10"/></g>
<g id="n-antimicrobial-activity"><circle class="r" cx="184" cy="470" r="11"/><text class="z14 f" x="165" y="467">antimicrobial activity</text></g>
<g id="n-r11"><circle class="r" cx="238" cy="486" r="9"/></g>
<g id="n-r12"><circle class="r" cx="377" cy="493" r="12"/></g>
<g id="n-polyphenols"><circle class="r" cx="295" cy="477" r="30"/><text class="z25" x="294" y="476">polyphenols</text></g>
<g id="n-thermal-processing"><circle class="g" cx="116" cy="499" r="8"/><text class="z14" x="116" y="494">thermal processing</text></g>
<g id="n-r13"><circle class="r" cx="325" cy="501" r="10"/></g>
<g id="n-shelf-life"><circle class="g" cx="295" cy="514" r="14"/><text class="z15" x="297" y="508">shelf life</text></g>
<g id="n-r14"><circle class="r" cx="255" cy="531" r="11"/></g>
<g id="n-lycopene"><circle class="g" cx="185" cy="550" r="10"/><text class="z14" x="186" y="546">lycopene</text></g>
<g id="n-r15"><circle class="r" cx="365" cy="554" r="10"/></g>
<g id="n-volatile-compounds"><circle class="r" cx="284" cy="551" r="10"/><text class="z15" x="338" y="545">volatile compounds</text></g>
<g id="n-g4"><circle class="g" cx="218" cy="567" r="9"/></g>
<g id="n-g5"><circle class="g" cx="251" cy="574" r="9"/></g>
<g id="n-p1"><circle class="p" cx="355" cy="590" r="13"/></g>
<g id="n-k1"><circle class="k" cx="385" cy="601" r="14"/></g>
<g id="n-r16"><circle class="r" cx="203" cy="600" r="9"/></g>
<g id="n-g6"><circle class="g" cx="265" cy="604" r="12"/></g>
<g id="n-g7"><circle class="g" cx="420" cy="578" r="22"/></g>
<g id="n-phenolic-compounds"><circle class="r" cx="305" cy="581" r="30"/><text class="z25" x="305" y="578">phenolic compounds</text></g>
<g id="n-colour"><circle class="g" cx="133" cy="596" r="6"/><text class="z14" x="129" y="594">colour</text></g>
<g id="n-r17"><circle class="r" cx="284" cy="640" r="8"/></g>
<g id="n-g8"><circle class="g" cx="323" cy="651" r="20"/></g>
<g id="n-r18"><circle class="r" cx="358" cy="644" r="9"/></g>
<g id="n-carotenoids"><circle class="g" cx="246" cy="639" r="17"/><text class="z19" x="246" y="627">carotenoids</text></g>
<g id="n-ultrasound"><circle class="g" cx="129" cy="646" r="7"/><text class="z14" x="128" y="641">ultrasound</text></g>
<g id="n-color"><circle class="p" cx="167" cy="690" r="6"/><text class="z14" x="168" y="677">color</text></g>
<g id="n-g9"><circle class="g" cx="279" cy="677" r="19"/></g>
<g id="n-vitamin-c"><circle class="g" cx="231" cy="702" r="16"/><text class="z19 gr" x="222" y="694">vitamin c</text></g>
<g id="n-g10"><circle class="g" cx="320" cy="710" r="18"/></g>
<g id="n-texture"><circle class="p" cx="290" cy="722" r="10"/><text class="z15 f" x="285" y="717">texture</text></g>
<g id="n-bioactive-compounds"><circle class="p" cx="360" cy="695" r="22"/><text class="z20" x="359" y="687">bioactive compounds</text></g>
<g id="n-ascorbic-acid"><circle class="g" cx="425" cy="727" r="13"/><text class="z15" x="425" y="719">ascorbic acid</text></g>
<g id="n-g11"><circle class="g" cx="213" cy="740" r="13"/></g>
<g id="n-p2"><circle class="p" cx="325" cy="748" r="9"/></g>
<g id="n-r19"><circle class="r" cx="243" cy="756" r="11"/></g>
<g id="n-r20"><circle class="r" cx="487" cy="773" r="20"/></g>
<g id="n-g12"><circle class="g" cx="418" cy="783" r="16"/></g>
<g id="n-antioxidant-activity"><circle class="g" cx="360" cy="754" r="24"/><text class="z23" x="361" y="759">antioxidant activity</text></g>
<g id="n-antioxidant-capacity"><circle class="p" cx="136" cy="791" r="7"/><text class="z14 f" x="92" y="788">antioxidant capacity</text></g>
<g id="n-r21"><circle class="r" cx="279" cy="791" r="9"/></g>
<g id="n-r22"><circle class="r" cx="305" cy="776" r="9"/></g>
<g id="n-bioaccessibility"><circle class="p" cx="229" cy="800" r="9"/><text class="z15" x="230" y="797">bioaccessibility</text></g>
<g id="n-g13"><circle class="g" cx="389" cy="840" r="12"/></g>
<g id="n-g14"><circle class="g" cx="430" cy="851" r="16"/></g>
<g id="n-phenolics"><circle class="g" cx="360" cy="805" r="16"/><text class="z19" x="365" y="800">phenolics</text></g>
<g id="n-p3"><circle class="p" cx="472" cy="798" r="13"/></g>
<g id="n-in-vitro-digestion"><circle class="p" cx="314" cy="835" r="9"/><text class="z15" x="314" y="830">in vitro digestion</text></g>
<g id="n-nutritional-composition"><circle class="p" cx="334" cy="862" r="10"/><text class="z15" x="333" y="858">nutritional composition</text></g>
<g id="n-dietary-fibre"><circle class="p" cx="521" cy="816" r="12"/><text class="z15 f" x="522" y="817">dietary fibre</text></g>
<g id="n-p4"><circle class="p" cx="473" cy="847" r="8"/></g>
<g id="n-fibre"><circle class="p" cx="565" cy="801" r="9"/><text class="z14 f" x="570" y="797">fibre</text></g>
<g id="n-amino-acids"><circle class="p" cx="556" cy="844" r="15"/><text class="z19" x="556" y="842">amino acids</text></g>
<g id="n-minerals"><circle class="p" cx="512" cy="884" r="12"/><text class="z20 gr" x="511" y="874">minerals</text></g>
<g id="n-p5"><circle class="p" cx="571" cy="881" r="9"/></g>
<g id="n-p6"><circle class="p" cx="687" cy="895" r="14"/></g>
<g id="n-p7"><circle class="p" cx="606" cy="904" r="10"/></g>
<g id="n-chemical-composition"><circle class="o" cx="642" cy="901" r="16"/><text class="z18 gr" x="643" y="896">chemical composition</text></g>
<g id="n-lipids"><circle class="p" cx="398" cy="902" r="5"/><text class="z14" x="396" y="900">lipids</text></g>
<g id="n-paste"><circle class="c" cx="470" cy="909" r="6"/><text class="z14" x="470" y="904">paste</text></g>
<g id="n-by-products"><circle class="p" cx="343" cy="940" r="9"/><text class="z15" x="342" y="933">by-products</text></g>
<g id="n-p8"><circle class="p" cx="410" cy="957" r="12"/></g>
<g id="n-p9"><circle class="p" cx="441" cy="972" r="17"/></g>
<g id="n-fermentation"><circle class="p" cx="478" cy="955" r="17"/><text class="z20" x="478" y="949">fermentation</text></g>
<g id="n-bread"><circle class="p" cx="384" cy="981" r="13"/><text class="z20" x="387" y="972">bread</text></g>
<g id="n-c1"><circle class="c" cx="542" cy="925" r="8"/></g>
<g id="n-starch"><circle class="p" cx="584" cy="932" r="10"/><text class="z15" x="581" y="930">starch</text></g>
<g id="n-mineral-composition"><circle class="g" cx="677" cy="947" r="8"/><text class="z14 f" x="655" y="940">mineral composition</text></g>
<g id="n-selenium"><circle class="c" cx="773" cy="932" r="15"/><text class="z17" x="772" y="930">selenium</text></g>
<g id="n-quinoa"><circle class="p" cx="531" cy="986" r="11"/><text class="z15" x="523" y="979">quinoa</text></g>
<g id="n-gluten"><circle class="c" cx="581" cy="981" r="6"/><text class="z13" x="569" y="979">gluten</text></g>
<g id="n-c2"><circle class="c" cx="621" cy="990" r="8"/></g>
<g id="n-proteins"><circle class="p" cx="512" cy="1017" r="8"/><text class="z15" x="512" y="1010">proteins</text></g>
<g id="n-by-product"><circle class="p" cx="430" cy="1028" r="7"/><text class="z14" x="430" y="1019">by-product</text></g>
<g id="n-p10"><circle class="p" cx="406" cy="1059" r="9"/></g>
<g id="n-p11"><circle class="p" cx="457" cy="1052" r="8"/></g>
<g id="n-sourdough"><circle class="p" cx="345" cy="1057" r="9"/><text class="z15" x="346" y="1043">sourdough</text></g>
<g id="n-probiotics"><circle class="p" cx="305" cy="1100" r="6"/><text class="z14" x="305" y="1090">probiotics</text></g>
<g id="n-microstructure"><circle class="p" cx="462" cy="1093" r="7"/><text class="z14" x="464" y="1084">microstructure</text></g>
<g id="n-edible-insects"><circle class="p" cx="511" cy="1127" r="7"/><circle class="p" cx="546" cy="1137" r="7"/><text class="z14" x="512" y="1118">edible insects</text></g>
<g id="n-extrusion"><circle class="p" cx="606" cy="1137" r="6"/><text class="z14" x="606" y="1123">extrusion</text></g>
<g id="n-fortification"><circle class="c" cx="656" cy="1043" r="7"/><text class="z14" x="655" y="1036">fortification</text></g>
<g id="n-o1"><circle class="o" cx="715" cy="997" r="16"/></g>
<g id="n-o2"><circle class="o" cx="743" cy="1030" r="8"/></g>
<g id="n-o3"><circle class="o" cx="741" cy="955" r="8"/></g>
<g id="n-digestibility"><circle class="o" cx="761" cy="1007" r="18"/><text class="z19" x="765" y="1001">digestibility</text></g>
<g id="n-broiler"><circle class="o" cx="803" cy="977" r="7"/><text class="z14" x="803" y="970">broiler</text></g>
<g id="n-phytic-acid"><circle class="c" cx="774" cy="1102" r="9"/><circle class="c" cx="810" cy="1106" r="9"/><text class="z15" x="773" y="1088">phytic acid</text></g>
<g id="n-zinc"><circle class="c" cx="887" cy="997" r="10"/><text class="z15" x="888" y="987">zinc</text></g>
<g id="n-iodine"><circle class="c" cx="862" cy="1073" r="9"/><text class="z15" x="864" y="1061">iodine</text></g>
<g id="n-agronomic-biofortification"><circle class="c" cx="975" cy="1089" r="7"/><text class="z14 gr" x="975" y="1080">agronomic biofortification</text></g>
<g id="n-c3"><circle class="c" cx="945" cy="991" r="9"/></g>
<g id="n-legume"><circle class="o" cx="971" cy="1003" r="12"/><text class="z14" x="972" y="996">legume</text></g>
<g id="n-silage"><circle class="o" cx="985" cy="1054" r="11"/><text class="z15" x="984" y="1043">silage</text></g>
<g id="n-o4"><circle class="o" cx="1092" cy="1026" r="8"/></g>
<g id="n-alfalfa"><circle class="o" cx="1068" cy="1011" r="8"/><text class="z14" x="1069" y="1001">alfalfa</text></g>
<g id="n-forage"><circle class="o" cx="971" cy="954" r="14"/><text class="z16" x="972" y="947">forage</text></g>
<g id="n-grazing"><circle class="o" cx="1072" cy="932" r="10"/><text class="z15" x="1073" y="927">grazing</text></g>
<g id="n-grassland"><circle class="o" cx="1164" cy="890" r="8"/><text class="z13" x="1164" y="885">grassland</text></g>
<g id="n-cattle"><circle class="o" cx="1121" cy="881" r="7"/><text class="z13 f" x="1120" y="877">cattle</text></g>
<g id="n-metabolism"><circle class="o" cx="926" cy="907" r="9"/><text class="z14 f" x="918" y="904">metabolism</text></g>
<g id="n-phosphorus"><circle class="c" cx="986" cy="912" r="14"/><text class="z15" x="986" y="904">phosphorus</text></g>
<g id="n-sheep"><circle class="o" cx="946" cy="880" r="8"/><text class="z14" x="946" y="876">sheep</text></g>
<g id="n-c4"><circle class="c" cx="957" cy="798" r="16"/></g>
<g id="n-nitrogen"><circle class="c" cx="998" cy="813" r="14"/><text class="z17" x="997" y="812">nitrogen</text></g>
<g id="n-survey"><circle class="o" cx="953" cy="838" r="8"/><text class="z14 f" x="955" y="832">survey</text></g>
<g id="n-intake"><circle class="o" cx="993" cy="843" r="8"/><text class="z14" x="993" y="840">intake</text></g>
<g id="n-c5"><circle class="c" cx="879" cy="811" r="12"/></g>
<g id="n-salinity"><circle class="g" cx="905" cy="829" r="13"/><text class="z15" x="900" y="827">salinity</text></g>
<g id="n-c6"><circle class="c" cx="863" cy="881" r="10"/></g>
<g id="n-wheat"><circle class="c" cx="807" cy="827" r="26"/><text class="z21" x="807" y="828">wheat</text></g>
<g id="n-biofortification"><circle class="c" cx="810" cy="872" r="30"/><text class="z22" x="811" y="868">biofortification</text></g>
<g id="n-crude-protein"><circle class="c" cx="801" cy="787" r="7"/><text class="z14 f" x="803" y="787">crude protein</text></g>
<g id="n-organic-farming"><circle class="o" cx="825" cy="771" r="8"/><circle class="o" cx="894" cy="777" r="8"/><text class="z15 gr" x="890" y="771">organic farming</text></g>
<g id="n-cadmium"><circle class="c" cx="947" cy="754" r="11"/><text class="z15" x="947" y="745">cadmium</text></g>
<g id="n-g15"><circle class="g" cx="1003" cy="743" r="10"/></g>
<g id="n-c7"><circle class="c" cx="778" cy="749" r="10"/></g>
<g id="n-growth"><circle class="r" cx="739" cy="743" r="7"/><text class="z15" x="737" y="737">growth</text></g>
<g id="n-g16"><circle class="g" cx="685" cy="746" r="10"/></g>
<g id="n-germination"><circle class="p" cx="650" cy="754" r="11"/><text class="z14" x="651" y="744">germination</text></g>
<g id="n-vitamins"><circle class="p" cx="575" cy="752" r="7"/><text class="z14 f" x="573" y="749">vitamins</text></g>
<g id="n-sugars"><circle class="g" cx="518" cy="752" r="12"/><text class="z15" x="525" y="743">sugars</text></g>
<g id="n-amino-acid"><circle class="r" cx="545" cy="723" r="10"/><text class="z15" x="557" y="716">amino acid</text></g>
<g id="n-fiber"><circle class="p" cx="600" cy="725" r="8"/><text class="z14 f" x="600" y="721">fiber</text></g>
<g id="n-p12"><circle class="p" cx="639" cy="714" r="9"/></g>
<g id="n-meat-quality"><circle class="o" cx="677" cy="708" r="7"/><text class="z14" x="681" y="701">meat quality</text></g>
<g id="n-microbiome"><circle class="r" cx="759" cy="697" r="7"/><text class="z14 f" x="760" y="689">microbiome</text></g>
<g id="n-p13"><circle class="p" cx="575" cy="701" r="9"/></g>
<g id="n-r23"><circle class="r" cx="466" cy="708" r="9"/></g>
<g id="n-g17"><circle class="g" cx="486" cy="681" r="10"/></g>
<g id="n-phenols"><circle class="g" cx="515" cy="682" r="13"/><text class="z15" x="517" y="679">phenols</text></g>
<g id="n-k2"><circle class="k" cx="437" cy="626" r="16"/></g>
<g id="n-c8"><circle class="c" cx="460" cy="649" r="9"/></g>
<g id="n-g18"><circle class="g" cx="546" cy="630" r="12"/></g>
<g id="n-r24"><circle class="r" cx="553" cy="664" r="10"/></g>
<g id="n-r25"><circle class="r" cx="408" cy="638" r="8"/></g>
<g id="n-fatty-acids"><circle class="p" cx="510" cy="641" r="22"/><text class="z21" x="511" y="635">fatty acids</text></g>
<g id="n-g19"><circle class="g" cx="481" cy="559" r="14"/></g>
<g id="n-c9"><circle class="c" cx="459" cy="587" r="10"/></g>
<g id="n-potato"><circle class="g" cx="534" cy="567" r="10"/><text class="z15" x="534" y="562">potato</text></g>
<g id="n-r26"><circle class="r" cx="432" cy="533" r="9"/></g>
<g id="n-r27"><circle class="r" cx="567" cy="596" r="9"/></g>
<g id="n-composition"><circle class="r" cx="604" cy="541" r="8"/><text class="z14 f" x="615" y="536">composition</text></g>
<g id="n-tomato"><circle class="g" cx="632" cy="576" r="14"/><text class="z18" x="632" y="570">tomato</text></g>
<g id="n-r28"><circle class="r" cx="644" cy="627" r="10"/></g>
<g id="n-fatty-acid"><circle class="r" cx="612" cy="610" r="10"/><text class="z14" x="612" y="605">fatty acid</text></g>
<g id="n-g20"><circle class="g" cx="612" cy="665" r="12"/></g>
<g id="n-g21"><circle class="g" cx="697" cy="647" r="10"/></g>
<g id="n-nutritional-quality"><circle class="g" cx="659" cy="653" r="18"/><text class="z19" x="656" y="650">nutritional quality</text></g>
<g id="n-r29"><circle class="r" cx="694" cy="584" r="14"/></g>
<g id="n-meat"><circle class="o" cx="715" cy="560" r="9"/><text class="z16" x="716" y="552">meat</text></g>
<g id="n-toxicity"><circle class="n" cx="745" cy="614" r="10"/><text class="z14" x="746" y="608">toxicity</text></g>
<g id="n-seeds"><circle class="b" cx="792" cy="604" r="9"/><text class="z14 f" x="792" y="595">seeds</text></g>
<g id="n-g22"><circle class="g" cx="680" cy="528" r="10"/></g>
<g id="n-g23"><circle class="g" cx="620" cy="499" r="14"/></g>
<g id="n-o5"><circle class="o" cx="754" cy="523" r="8"/></g>
<g id="n-food-quality"><circle class="r" cx="647" cy="474" r="22"/><text class="z20" x="650" y="474">food quality</text></g>
<g id="n-nutrients"><circle class="n" cx="766" cy="471" r="14"/><text class="z19" x="768" y="467">nutrients</text></g>
<g id="n-r30"><circle class="r" cx="593" cy="449" r="9"/></g>
<g id="n-secondary-metabolites"><circle class="g" cx="657" cy="430" r="12"/><text class="z15" x="656" y="428">secondary metabolites</text></g>
<g id="n-feed"><circle class="r" cx="712" cy="360" r="10"/><text class="z15 f" x="712" y="362">feed</text></g>
<g id="n-food-safety"><circle class="r" cx="747" cy="383" r="33"/><text class="z27" x="745" y="389">food safety</text></g>
<g id="n-deoxynivalenol"><circle class="n" cx="808" cy="347" r="10"/><text class="z15 f" x="807" y="341">deoxynivalenol</text></g>
<g id="n-c10"><circle class="c" cx="863" cy="342" r="9"/></g>
<g id="n-n1"><circle class="n" cx="808" cy="385" r="12"/></g>
<g id="n-fungi"><circle class="n" cx="790" cy="430" r="8"/><text class="z15" x="794" y="426">fungi</text></g>
<g id="n-aflatoxin"><circle class="n" cx="837" cy="437" r="9"/><text class="z15 f" x="843" y="434">aflatoxin</text></g>
<g id="n-biocontrol"><circle class="n" cx="893" cy="283" r="8"/><text class="z14 f" x="895" y="273">biocontrol</text></g>
<g id="n-b1"><circle class="b" cx="1050" cy="415" r="9"/></g>
<g id="n-ethnobotany"><circle class="b" cx="952" cy="416" r="9"/><text class="z15" x="991" y="412">ethnobotany</text></g>
<g id="n-plant-breeding"><circle class="b" cx="935" cy="453" r="8"/><text class="z16" x="934" y="448">plant breeding</text></g>
<g id="n-biological-control"><circle class="n" cx="1038" cy="456" r="8"/><text class="z15 f" x="1046" y="453">biological control</text></g>
<g id="n-g24"><circle class="g" cx="806" cy="474" r="8"/></g>
<g id="n-r31"><circle class="r" cx="940" cy="480" r="10"/></g>
<g id="n-heavy-metals"><circle class="c" cx="864" cy="478" r="14"/><text class="z17" x="859" y="477">heavy metals</text></g>
<g id="n-pollen"><circle class="n" cx="960" cy="506" r="7"/><text class="z15" x="960" y="502">pollen</text></g>
<g id="n-resistance"><circle class="n" cx="1037" cy="501" r="7"/><text class="z15" x="1037" y="496">resistance</text></g>
<g id="n-soil"><circle class="c" cx="1000" cy="527" r="11"/><text class="z15" x="1000" y="522">soil</text></g>
<g id="n-temperature"><circle class="g" cx="801" cy="541" r="10"/><text class="z16" x="801" y="538">temperature</text></g>
<g id="n-g25"><circle class="g" cx="871" cy="547" r="9"/></g>
<g id="n-b2"><circle class="b" cx="847" cy="566" r="10"/></g>
<g id="n-b3"><circle class="b" cx="1013" cy="560" r="14"/></g>
<g id="n-b4"><circle class="b" cx="1082" cy="546" r="9"/></g>
<g id="n-micronutrients"><circle class="c" cx="910" cy="580" r="14"/><text class="z17" x="909" y="575">micronutrients</text></g>
<g id="n-cereals"><circle class="n" cx="832" cy="616" r="14"/><text class="z16" x="833" y="611">cereals</text></g>
<g id="n-b5"><circle class="b" cx="887" cy="625" r="9"/></g>
<g id="n-b6"><circle class="b" cx="957" cy="606" r="9"/></g>
<g id="n-environment"><circle class="o" cx="926" cy="612" r="14"/><text class="z15" x="926" y="607">environment</text></g>
<g id="n-herbivory"><circle class="c" cx="1011" cy="624" r="7"/><text class="z15 f" x="1005" y="618">herbivory</text></g>
<g id="n-sustainable-agriculture"><circle class="b" cx="1110" cy="567" r="14"/><text class="z17" x="1126" y="565">sustainable agriculture</text></g>
<g id="n-b7"><circle class="b" cx="1043" cy="670" r="18"/></g>
<g id="n-maize"><circle class="b" cx="1003" cy="650" r="20"/><text class="z20" x="1004" y="645">maize</text></g>
<g id="n-g26"><circle class="g" cx="808" cy="675" r="16"/></g>
<g id="n-breeding"><circle class="g" cx="872" cy="656" r="16"/><text class="z17" x="870" y="649">breeding</text></g>
<g id="n-arsenic"><circle class="c" cx="948" cy="679" r="8"/><text class="z14" x="948" y="671">arsenic</text></g>
<g id="n-g27"><circle class="g" cx="876" cy="700" r="9"/></g>
<g id="n-c11"><circle class="c" cx="965" cy="723" r="9"/></g>
<g id="n-photosynthesis"><circle class="b" cx="915" cy="717" r="9"/><text class="z15" x="916" y="708">photosynthesis</text></g>
<g id="n-yield"><circle class="b" cx="1026" cy="717" r="18"/><text class="z21" x="1027" y="705">yield</text></g>
<g id="n-rice"><circle class="c" cx="1060" cy="769" r="16"/><text class="z20" x="1060" y="762">rice</text></g>
<g id="n-c12"><circle class="c" cx="854" cy="741" r="8"/></g>
<g id="n-urban-agriculture"><circle class="b" cx="1373" cy="374" r="8"/><text class="z14" x="1370" y="367">urban agriculture</text></g>
<g id="n-life-cycle-assessment"><circle class="b" cx="1165" cy="396" r="9"/><text class="z15" x="1166" y="396">life cycle assessment</text></g>
<g id="n-crop-wild-relatives"><circle class="b" cx="1209" cy="420" r="9"/><text class="z14 f" x="1218" y="419">crop wild relatives</text></g>
<g id="n-water-footprint"><circle class="b" cx="1303" cy="428" r="9"/><text class="z14 f" x="1310" y="427">water footprint</text></g>
<g id="n-water"><circle class="b" cx="1118" cy="443" r="7"/><text class="z14" x="1118" y="443">water</text></g>
<g id="n-resilience"><circle class="b" cx="1237" cy="454" r="9"/><text class="z15" x="1237" y="450">resilience</text></g>
<g id="n-sustainability"><circle class="b" cx="1132" cy="479" r="28"/><text class="z21" x="1132" y="477">sustainability</text></g>
<g id="n-africa"><circle class="b" cx="1382" cy="462" r="10"/><text class="z15" x="1383" y="459">africa</text></g>
<g id="n-west-africa"><circle class="b" cx="1434" cy="466" r="8"/><text class="z13 f" x="1436" y="464">west africa</text></g>
<g id="n-b8"><circle class="b" cx="1209" cy="498" r="8"/></g>
<g id="n-b9"><circle class="b" cx="1317" cy="491" r="10"/></g>
<g id="n-irrigation"><circle class="b" cx="1262" cy="495" r="14"/><text class="z15" x="1260" y="492">irrigation</text></g>
<g id="n-b10"><circle class="b" cx="1140" cy="529" r="10"/></g>
<g id="n-biodiversity"><circle class="b" cx="1204" cy="534" r="20"/><text class="z20" x="1203" y="528">biodiversity</text></g>
<g id="n-china"><circle class="b" cx="1313" cy="525" r="14"/><text class="z15" x="1313" y="523">china</text></g>
<g id="n-b11"><circle class="b" cx="1273" cy="566" r="18"/></g>
<g id="n-b12"><circle class="b" cx="1368" cy="554" r="9"/></g>
<g id="n-agriculture"><circle class="b" cx="1312" cy="557" r="24"/><text class="z21" x="1312" y="550">agriculture</text></g>
<g id="n-ndvi"><circle class="b" cx="1407" cy="559" r="7"/><text class="z14" x="1405" y="554">ndvi</text></g>
<g id="n-modis"><circle class="b" cx="1452" cy="569" r="7"/><text class="z14" x="1453" y="563">modis</text></g>
<g id="n-crops"><circle class="b" cx="1214" cy="574" r="8"/><text class="z13 f" x="1222" y="567">crops</text></g>
<g id="n-b13"><circle class="b" cx="1345" cy="620" r="10"/></g>
<g id="n-b14"><circle class="b" cx="1305" cy="641" r="10"/></g>
<g id="n-food-security"><circle class="b" cx="1242" cy="621" r="44"/><text class="z29" x="1252" y="621">food security</text></g>
<g id="n-remote-sensing"><circle class="b" cx="1410" cy="616" r="11"/><text class="z15" x="1409" y="609">remote sensing</text></g>
<g id="n-yield-gap"><circle class="b" cx="1507" cy="639" r="9"/><text class="z14" x="1502" y="631">yield gap</text></g>
<g id="n-sustainable-intensification"><circle class="b" cx="1433" cy="669" r="11"/><text class="z14 f" x="1432" y="660">sustainable intensification</text></g>
<g id="n-biomass"><circle class="b" cx="1149" cy="665" r="8"/><text class="z15 f" x="1150" y="660">biomass</text></g>
<g id="n-livestock"><circle class="b" cx="1199" cy="665" r="10"/><text class="z15" x="1186" y="660">livestock</text></g>
<g id="n-india"><circle class="b" cx="1249" cy="670" r="8"/><text class="z14" x="1247" y="664">india</text></g>
<g id="n-b15"><circle class="b" cx="1381" cy="697" r="10"/></g>
<g id="n-adaptation"><circle class="b" cx="1323" cy="686" r="14"/><text class="z18" x="1322" y="677">adaptation</text></g>
<g id="n-livelihoods"><circle class="b" cx="1468" cy="700" r="9"/><text class="z15" x="1467" y="692">livelihoods</text></g>
<g id="n-crop-production"><circle class="b" cx="1135" cy="701" r="10"/><text class="z15" x="1136" y="692">crop production</text></g>
<g id="n-b16"><circle class="b" cx="1243" cy="741" r="10"/></g>
<g id="n-sub-saharan-africa"><circle class="b" cx="1303" cy="729" r="10"/><text class="z16" x="1233" y="718">sub-saharan africa</text></g>
<g id="n-mitigation"><circle class="b" cx="1392" cy="740" r="10"/><text class="z14 f" x="1392" y="731">mitigation</text></g>
<g id="n-heat-stress"><circle class="b" cx="1130" cy="772" r="9"/><text class="z14" x="1129" y="772">heat stress</text></g>
<g id="n-soil-fertility"><circle class="b" cx="1250" cy="772" r="9"/><text class="z14 f" x="1252" y="770">soil fertility</text></g>
<g id="n-b17"><circle class="b" cx="1189" cy="790" r="9"/></g>
<g id="n-crop-yield"><circle class="b" cx="1317" cy="792" r="9"/><text class="z14" x="1316" y="789">crop yield</text></g>
<g id="n-ethiopia"><circle class="b" cx="1111" cy="821" r="8"/><text class="z15" x="1110" y="817">ethiopia</text></g>
<g id="n-biochar"><circle class="b" cx="1160" cy="826" r="8"/><text class="z13 f" x="1161" y="822">biochar</text></g>
<g id="n-lettuce"><circle class="c" cx="666" cy="869" r="10"/><text class="z14" x="666" y="866">lettuce</text></g>
<g id="n-g28"><circle class="g" cx="730" cy="880" r="10"/></g>
<g id="n-p14"><circle class="p" cx="639" cy="833" r="9"/></g>
<g id="n-apple"><circle class="o" cx="670" cy="824" r="9"/><text class="z14" x="669" y="820">apple</text></g>
<g id="n-protein"><circle class="p" cx="729" cy="834" r="18"/><text class="z20" x="731" y="833">protein</text></g>
<g id="n-p15"><circle class="p" cx="712" cy="785" r="9"/></g>
<g id="n-c13"><circle class="c" cx="614" cy="773" r="9"/></g>
<g id="n-barley"><circle class="c" cx="647" cy="787" r="9"/><text class="z14" x="647" y="783">barley</text></g>
<g id="n-mass-spectrometry"><circle class="r" cx="482" cy="506" r="11"/><text class="z15 f" x="452" y="506">mass spectrometry</text></g>
<g id="n-g29"><circle class="g" cx="415" cy="450" r="9"/></g>
<g id="n-g30"><circle class="g" cx="456" cy="493" r="9"/></g>
<g id="n-metabolomics"><circle class="r" cx="480" cy="458" r="14"/><text class="z20 f" x="480" y="455">metabolomics</text></g>
<g id="n-r32"><circle class="r" cx="531" cy="493" r="12"/></g>
<g id="n-quality"><circle class="g" cx="501" cy="485" r="20"/><text class="z21" x="500" y="481">quality</text></g>
<g id="n-g31"><circle class="g" cx="542" cy="427" r="12"/></g>
<g id="n-r33"><circle class="r" cx="519" cy="437" r="9"/></g>
<g id="n-r34"><circle class="r" cx="405" cy="405" r="9"/></g>
</g>
<g id="cluster-boxes">
<rect class="box" x="565" y="171" width="528" height="598" rx="60" stroke="#e8141c"/>
<rect class="box" x="128" y="396" width="353" height="219" rx="40" stroke="#1e69b0"/>
<rect class="box" x="421" y="536" width="239" height="160" rx="30" stroke="#2ea8e6"/>
<rect class="box" x="167" y="618" width="367" height="254" rx="42" stroke="#1ca24d"/>
<rect class="box" x="786" y="463" width="234" height="232" rx="32" stroke="#f2f20a"/>
<rect class="box" x="1049" y="430" width="507" height="378" rx="62" stroke="#3e6f9c"/>
<rect class="box" x="572" y="735" width="354" height="213" rx="38" stroke="#f5b519"/>
<rect class="box" x="448" y="912" width="418" height="231" rx="30" stroke="#111111"/>
</g>
<g id="titles">
<text class="ttl t-red" x="796" y="52" textLength="303" lengthAdjust="spacingAndGlyphs">Toxic compounds</text>
<text class="ttl t-blue" x="31" y="155" textLength="204" lengthAdjust="spacingAndGlyphs">Antioxidant</text>
<text class="ttl t-blue" x="31" y="209" textLength="254" lengthAdjust="spacingAndGlyphs">&amp; Polyphenols</text>
<text class="ttl t-links" x="1293" y="223" textLength="227" lengthAdjust="spacingAndGlyphs">Links to yield</text>
<text class="ttl t-links" x="1374" y="279" textLength="64" lengthAdjust="spacingAndGlyphs">and</text>
<text class="ttl t-links" x="1291" y="335" textLength="232" lengthAdjust="spacingAndGlyphs">sustainability</text>
<text class="ttl t-fatty" x="33" y="715" textLength="85" lengthAdjust="spacingAndGlyphs">Fatty</text>
<text class="ttl t-fatty" x="33" y="770" textLength="87" lengthAdjust="spacingAndGlyphs">acids</text>
<text class="ttl t-green" x="30" y="922" textLength="203" lengthAdjust="spacingAndGlyphs">Antioxidant</text>
<text class="ttl t-green" x="30" y="977" textLength="191" lengthAdjust="spacingAndGlyphs">&amp; Vitamins</text>
<text class="ttl t-black" x="61" y="1130" textLength="204" lengthAdjust="spacingAndGlyphs">Digestibility</text>
<text class="ttl t-yellow" x="1262" y="909" textLength="264" lengthAdjust="spacingAndGlyphs">Micronutrients</text>
<text class="ttl t-orange" x="1141" y="1105" textLength="144" lengthAdjust="spacingAndGlyphs">Proteins</text>
</g>
</g>
<rect x="2499" y="176" width="3" height="100" fill="#1b4fa8"/>
<rect x="2499" y="218" width="3" height="22" fill="#f0d000"/>
</svg>
